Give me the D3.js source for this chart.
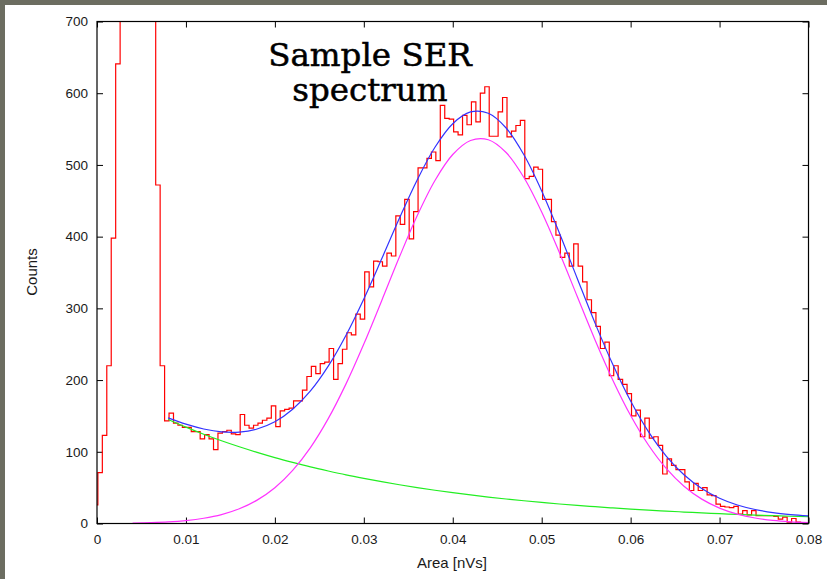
<!DOCTYPE html>
<html><head><meta charset="utf-8">
<script src="https://cdn.jsdelivr.net/npm/d3@7"></script>
<style>body{margin:0;background:#fff} svg{display:block}</style>
</head><body><svg id="c" width="827" height="579"></svg>
<script>
// ---------- data ----------
const binStart = -0.0004;
const binWidth = 0.0005;
const counts = [26,
  71,123,220,398,641,1000,1500,1800,1900,1800,1500,1100,800,472,220,
  143,154,140,137,134,134,128,128,118,124,118,103,126,128,130,125,124,152,137,133,
  137,140,144,147,164,135,157,159,161,171,171,186,205,219,209,223,225,244,201,223,
  243,266,263,292,285,351,330,366,365,359,377,373,429,417,452,397,435,496,496,509,
  518,506,583,565,564,546,542,569,556,588,560,600,609,540,540,574,594,539,547,555,
  562,481,484,497,494,452,452,421,402,371,377,359,390,359,337,312,294,275,244,253,
  206,220,201,194,181,150,158,121,147,119,121,109,69,90,81,75,75,58,46,56,
  46,50,40,39,27,24,23,22,24,13,18,12,18,11,11,11,11,10,6,9,2,7,2,1,1];

const curveX = [0.004,0.006,0.008,0.010,0.012,0.014,0.016,0.018,0.020,0.022,0.024,0.026,0.028,
  0.030,0.032,0.034,0.036,0.038,0.040,0.042,0.044,0.046,0.048,0.050,0.052,0.054,0.056,
  0.058,0.060,0.062,0.064,0.066,0.068,0.070,0.072,0.074,0.076,0.078,0.080];
const magentaFit = [0.6,1.2,2.2,4.1,7.3,12.4,20.5,32.6,49.9,74.1,105.9,146.2,194.7,
  250.2,310.4,371.5,429.1,478.3,514.5,534.1,535.1,517.3,482.5,434.4,377.5,316.5,256.0,
  199.9,150.6,109.5,76.8,52.0,34.0,21.5,13.1,7.7,4.3,2.4,1.3];
const greenFit = [null,null,145.0,134.4,124.5,115.4,107.0,99.2,91.9,85.2,78.9,73.2,67.8,
  62.9,58.3,54.0,50.0,46.4,43.0,39.8,36.9,34.2,31.7,29.4,27.2,25.2,23.4,
  21.7,20.1,18.6,17.3,16.0,14.8,13.7,12.7,11.8,10.9,10.1,9.4];
const blueFit = [null,null,147.2,138.5,131.8,127.8,127.5,131.8,141.8,159.3,184.8,219.4,262.5,
  313.1,368.7,425.5,479.1,524.7,557.5,573.9,572.0,551.5,514.2,463.8,404.7,341.7,279.4,
  221.6,170.7,128.1,94.1,68.0,48.8,35.2,25.8,19.5,15.2,12.5,10.7];

const xTicks = [0,0.01,0.02,0.03,0.04,0.05,0.06,0.07,0.08];
const xTickLabels = ["0","0.01","0.02","0.03","0.04","0.05","0.06","0.07","0.08"];
const yTicks = [0,100,200,300,400,500,600,700];
const yTickLabels = ["0","100","200","300","400","500","600","700"];
const titleLines = ["Sample SER","spectrum"];
const xLabel = "Area [nVs]";
const yLabel = "Counts";

// ---------- drawing ----------
const W = 827, H = 579;
const L = 97, R = 808.5, T = 21.5, B = 523.5;
const svg = d3.select("#c");
svg.append("rect").attr("x",0).attr("y",0).attr("width",W).attr("height",H).attr("fill","#fff");
svg.append("rect").attr("x",0).attr("y",0).attr("width",W).attr("height",5).attr("fill","#6c6d61");
svg.append("rect").attr("x",0).attr("y",0).attr("width",5).attr("height",H).attr("fill","#6c6d61");

const x = d3.scaleLinear().domain([0,0.08]).range([L,R]);
const y = d3.scaleLinear().domain([0,700]).range([B,T]);

svg.append("defs").append("clipPath").attr("id","pc")
  .append("rect").attr("x",L).attr("y",T).attr("width",R-L).attr("height",B-T);

const font = "'Liberation Sans', Arial, Helvetica, sans-serif";
const fmtX = (d,i)=>xTickLabels[i];
const fmtY = (d,i)=>yTickLabels[i];

function styleAxis(g){
  g.select(".domain").remove();
  g.selectAll(".tick line").attr("stroke","#000").attr("stroke-width",1);
  g.selectAll(".tick text").attr("fill","#1a1a1a").style("font-family",font).style("font-size","13.5px");
}
svg.append("g").attr("transform",`translate(${L},0)`)
  .call(d3.axisLeft(y).tickValues(yTicks).tickFormat(fmtY).tickSizeInner(-6).tickSizeOuter(0).tickPadding(9))
  .call(styleAxis);
svg.append("g").attr("transform",`translate(0,${B})`)
  .call(d3.axisBottom(x).tickValues(xTicks).tickFormat(fmtX).tickSizeInner(-6).tickSizeOuter(0).tickPadding(11))
  .call(styleAxis);
svg.append("g").attr("transform",`translate(${R},0)`)
  .call(d3.axisRight(y).tickValues(yTicks).tickFormat("").tickSizeInner(-6).tickSizeOuter(0))
  .call(styleAxis);
svg.append("g").attr("transform",`translate(0,${T})`)
  .call(d3.axisTop(x).tickValues(xTicks).tickFormat("").tickSizeInner(-6).tickSizeOuter(0))
  .call(styleAxis);

const plot = svg.append("g").attr("clip-path","url(#pc)");

// histogram
const histPts = counts.map((v,i)=>[binStart+i*binWidth, v]);
histPts.push([binStart+counts.length*binWidth, counts[counts.length-1]]);
plot.append("path")
  .attr("d", d3.line().x(d=>x(d[0])).y(d=>y(d[1])).curve(d3.curveStepAfter)(histPts))
  .attr("fill","none").attr("stroke","#ff0000").attr("stroke-width",1.2);

function fitLine(vals, color){
  const pts = curveX.map((cx,i)=>[cx, vals[i]]);
  plot.append("path")
    .attr("d", d3.line().defined(d=>d[1]!==null).x(d=>x(d[0])).y(d=>y(d[1])).curve(d3.curveCatmullRom.alpha(0.5))(pts))
    .attr("fill","none").attr("stroke",color).attr("stroke-width",1.2);
}
fitLine(greenFit, "#22ee22");
fitLine(magentaFit, "#ff33ff");
fitLine(blueFit, "#3333ff");

// frame
svg.append("rect").attr("x",L).attr("y",T).attr("width",R-L).attr("height",B-T)
  .attr("fill","none").attr("stroke","#000").attr("stroke-width",1.2);

// labels
svg.append("text").attr("transform","translate(37,272) rotate(-90)")
  .attr("text-anchor","middle").style("font-family",font).style("font-size","15px").attr("fill","#1a1a1a").text(yLabel);
svg.append("text").attr("x",452).attr("y",568)
  .attr("text-anchor","middle").style("font-family",font).style("font-size","15px").attr("fill","#1a1a1a").text(xLabel);

// title
titleLines.forEach((t,i)=>{
  svg.append("text").attr("x",370).attr("y",66+i*35)
    .attr("text-anchor","middle").style("font-family","'DejaVu Serif', serif").style("font-size","32.5px")
    .attr("fill","#000").attr("stroke","#000").attr("stroke-width",0.5).text(t);
});
</script></body></html>
